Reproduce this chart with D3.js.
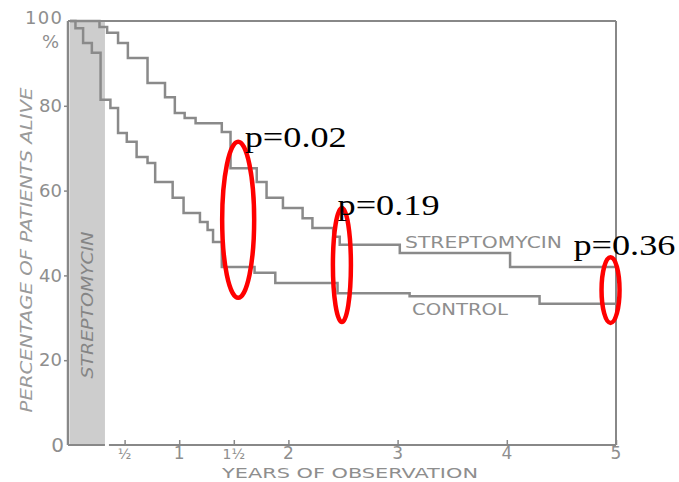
<!DOCTYPE html>
<html>
<head>
<meta charset="utf-8">
<script src="https://cdn.jsdelivr.net/npm/d3@7"></script>
<style>
  body { margin: 0; background: #fff; }
  svg { display: block; }
</style>
</head>
<body>
<svg id="chart" width="679" height="482"></svg>
<script>
// ************************************
// Data
// ************************************

// Streptomycin group: time of each step (years) and % alive after it
const strepYears = [0, 0.27, 0.34, 0.44, 0.53, 0.71, 0.87, 0.96, 1.05, 1.15, 1.39, 1.47,
                    1.71, 1.8, 1.95, 2.13, 2.22, 2.41, 2.47, 3.02, 4.03, 5];
const strepAlive = [100, 98.6, 97.2, 94.8, 91.3, 85.4, 82.0, 78.3, 77.1, 75.9, 73.8, 65.3,
                    62.0, 58.3, 55.9, 53.5, 51.2, 49.1, 47.2, 45.3, 42.0, 42.0];

// Control group
const controlYears = [0, 0.05, 0.12, 0.2, 0.28, 0.37, 0.44, 0.52, 0.61, 0.71, 0.78, 0.94,
                      1.04, 1.19, 1.26, 1.31, 1.39, 1.69, 1.88, 2.45, 3.11, 4.3, 5];
const controlAlive = [100, 98.3, 94.8, 92.5, 81.4, 79.5, 73.6, 71.5, 67.9, 66.5, 62.0, 58.3,
                      54.7, 52.6, 50.7, 47.9, 42.0, 40.6, 38.2, 35.8, 35.1, 33.3, 33.3];

// tick labels
const yTicks = [20, 40, 60, 80];
const xTicks = [0.5, 1, 1.5, 2, 3, 4, 5];
const xTickLabels = ["½", "1", "1½", "2", "3", "4", "5"];

// streptomycin period shown as a band (years)
const treatment = [0, 0.32];

// p-value annotations (red ellipses)
const pYears = [1.54, 2.49, 4.95];
const pTop = [71.5, 55.9, 44.3];
const pBottom = [34.7, 29.0, 28.8];
const pLabels = ["p=0.02", "p=0.19", "p=0.36"];
const pLabelYears = [1.6, 2.45, 4.61];
const pLabelAt = [70.3, 54.3, 44.8];

// ************************************
// Scales
// ************************************
const svg = d3.select("#chart");
const grey = "#8e8e8e";
const font = "DejaVu Sans, sans-serif";

const x = d3.scaleLinear().domain([0, 5]).range([70, 616]);
const y = d3.scaleLinear().domain([0, 100]).range([445, 21]);

// band
svg.append("rect")
    .attr("x", x(treatment[0]))
    .attr("y", y(100))
    .attr("width", x(treatment[1]) - x(treatment[0]))
    .attr("height", y(0) - y(100))
    .attr("fill", "#cdcdcd");

svg.append("text")
    .attr("transform", `translate(${(x(treatment[0]) + x(treatment[1])) / 2 + 6},${y(33)}) rotate(-90)`)
    .attr("text-anchor", "middle")
    .attr("font-family", font)
    .attr("font-style", "italic")
    .attr("font-size", 16)
    .attr("fill", "#858585")
    .attr("textLength", 147)
    .attr("lengthAdjust", "spacingAndGlyphs")
    .text("STREPTOMYCIN");

// frame: left axis, top and right
const frame = svg.append("g").attr("stroke", "#888").attr("fill", "none");
frame.append("line").attr("x1", 68).attr("x2", 68).attr("y1", y(100)).attr("y2", y(0)).attr("stroke-width", 2.5);
frame.append("line").attr("x1", 68).attr("x2", x(5)).attr("y1", y(100)).attr("y2", y(100)).attr("stroke-width", 2);
frame.append("line").attr("x1", x(5)).attr("x2", x(5)).attr("y1", y(100)).attr("y2", y(0)).attr("stroke-width", 2);
frame.append("line").attr("x1", 68).attr("x2", x(treatment[1])).attr("y1", y(0)).attr("y2", y(0)).attr("stroke-width", 2);

// Y axis
const yAxis = svg.append("g")
    .attr("transform", "translate(68,0)")
    .call(d3.axisLeft(y).tickValues(yTicks).tickSize(4).tickPadding(2));
yAxis.select(".domain").remove();
yAxis.selectAll("line").attr("stroke", "#888").attr("stroke-width", 1.5);
yAxis.selectAll("text")
    .attr("font-family", font)
    .attr("font-size", 18)
    .attr("fill", grey);

// 100 % and 0 labels
svg.append("text").attr("x", 62).attr("y", 24).attr("text-anchor", "end")
    .attr("font-family", font).attr("font-size", 18).attr("fill", grey)
    .attr("textLength", 37).text("100");
svg.append("text").attr("x", 59).attr("y", 48).attr("text-anchor", "end")
    .attr("font-family", font).attr("font-size", 18).attr("fill", grey).text("%");
svg.append("text").attr("x", 64).attr("y", 452).attr("text-anchor", "end")
    .attr("font-family", font).attr("font-size", 20).attr("fill", grey).text("0");

// Y title
svg.append("text")
    .attr("transform", `translate(32,${y(46)}) rotate(-90)`)
    .attr("text-anchor", "middle")
    .attr("font-family", font)
    .attr("font-style", "italic")
    .attr("font-size", 16)
    .attr("fill", "#9a9a9a")
    .attr("textLength", 325)
    .attr("lengthAdjust", "spacingAndGlyphs")
    .text("PERCENTAGE OF PATIENTS ALIVE");

// X axis
const xAxis = svg.append("g")
    .attr("transform", `translate(0,${y(0)})`)
    .call(d3.axisTop(x).tickValues(xTicks).tickSize(5).tickFormat(""));
xAxis.select(".domain").attr("d", `M${x(treatment[1]) + 4},0H${x(5)}`)
    .attr("stroke", "#888").attr("stroke-width", 2);
xAxis.selectAll("line").attr("stroke", "#888").attr("stroke-width", 1.5);

svg.append("g").selectAll("text")
    .data(xTicks)
    .join("text")
    .attr("x", d => x(d))
    .attr("y", 459)
    .attr("text-anchor", "middle")
    .attr("font-family", font)
    .attr("font-size", (d, i) => (xTickLabels[i].includes("½") ? 14 : 17))
    .attr("fill", grey)
    .text((d, i) => xTickLabels[i]);

svg.append("text")
    .attr("x", 350).attr("y", 478)
    .attr("text-anchor", "middle")
    .attr("font-family", font)
    .attr("font-size", 14)
    .attr("fill", grey)
    .attr("textLength", 256)
    .attr("lengthAdjust", "spacingAndGlyphs")
    .text("YEARS OF OBSERVATION");

// ************************************
// Survival step curves
// ************************************
const line = d3.line()
    .x(d => x(d[0]))
    .y(d => y(d[1]))
    .curve(d3.curveStepAfter);

const series = [
    d3.zip(strepYears, strepAlive),
    d3.zip(controlYears, controlAlive)
];

svg.append("g").selectAll("path")
    .data(series)
    .join("path")
    .attr("d", line)
    .attr("fill", "none")
    .attr("stroke", "#8a8a8a")
    .attr("stroke-width", 2.5);

svg.append("text").attr("x", 405).attr("y", 248)
    .attr("font-family", font).attr("font-size", 15).attr("fill", grey)
    .attr("textLength", 157).attr("lengthAdjust", "spacingAndGlyphs")
    .text("STREPTOMYCIN");
svg.append("text").attr("x", 412).attr("y", 315)
    .attr("font-family", font).attr("font-size", 16).attr("fill", grey)
    .attr("textLength", 96).attr("lengthAdjust", "spacingAndGlyphs")
    .text("CONTROL");

// ************************************
// p-value annotations
// ************************************
const rx = [16, 9, 9];
const ann = svg.append("g");
ann.selectAll("ellipse")
    .data(pYears)
    .join("ellipse")
    .attr("cx", d => x(d))
    .attr("cy", (d, i) => (y(pTop[i]) + y(pBottom[i])) / 2)
    .attr("rx", (d, i) => rx[i])
    .attr("ry", (d, i) => (y(pBottom[i]) - y(pTop[i])) / 2)
    .attr("fill", "none")
    .attr("stroke", "#ff0000")
    .attr("stroke-width", 4.5);

ann.selectAll("text")
    .data(pLabels)
    .join("text")
    .attr("x", (d, i) => x(pLabelYears[i]))
    .attr("y", (d, i) => y(pLabelAt[i]))
    .attr("font-family", "Liberation Serif, serif")
    .attr("font-size", 30)
    .attr("fill", "#000")
    .attr("textLength", 102)
    .attr("lengthAdjust", "spacingAndGlyphs")
    .text(d => d);
</script>
</body>
</html>
